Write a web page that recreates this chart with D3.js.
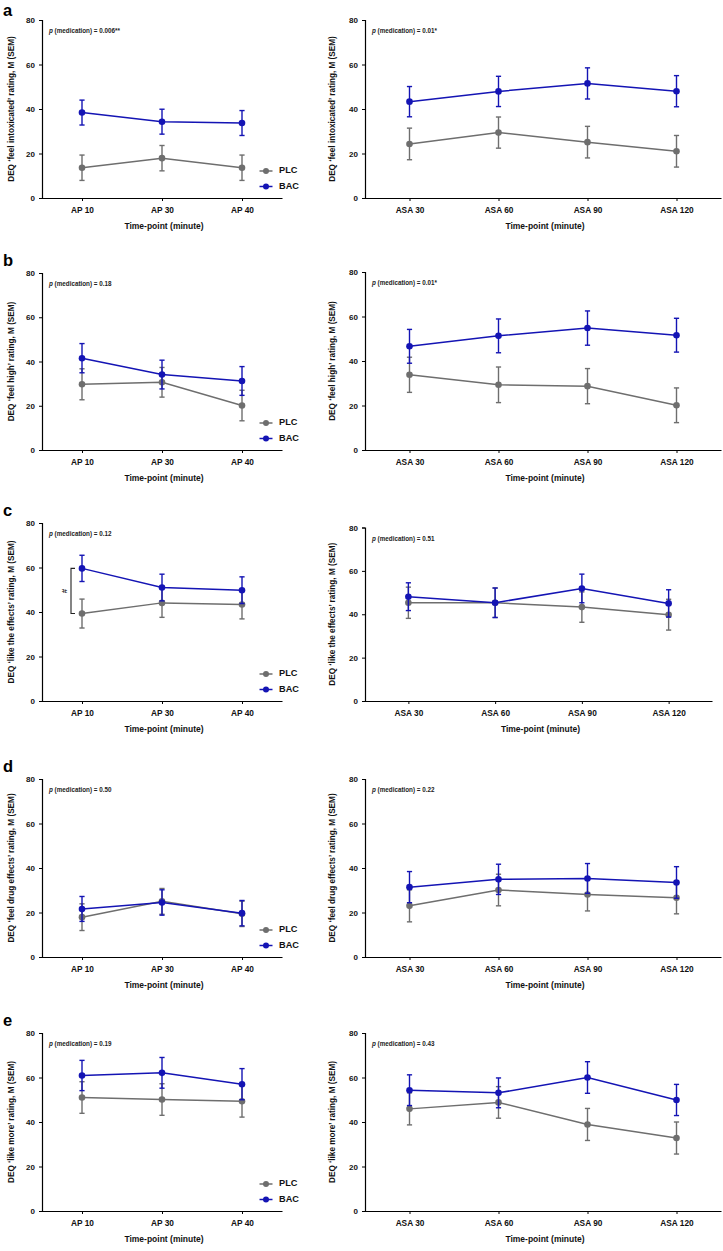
<!DOCTYPE html>
<html>
<head>
<meta charset="utf-8">
<script src="https://cdn.jsdelivr.net/npm/d3@7/dist/d3.min.js"></script>
<style>
  html, body { margin: 0; padding: 0; background: #fff; }
  svg { display: block; }
  text { font-family: "Liberation Sans", Arial, sans-serif; font-weight: bold; }
</style>
</head>
<body>
<svg id="chart" width="723" height="1251"></svg>
<script>
// ---------------- DATA ----------------
const panelLetters = ["a", "b", "c", "d", "e"];
const yLabels = [
  "DEQ \u2018feel intoxicated\u2019 rating, M (SEM)",
  "DEQ \u2018feel high\u2019 rating, M (SEM)",
  "DEQ \u2018like the effects\u2019 rating, M (SEM)",
  "DEQ \u2018feel drug effects\u2019 rating, M (SEM)",
  "DEQ \u2018like more\u2019 rating, M (SEM)"
];
const apTimes = ["AP 10", "AP 30", "AP 40"];
const asaTimes = ["ASA 30", "ASA 60", "ASA 90", "ASA 120"];
const yTicks = [0, 20, 40, 60, 80];
const pLeft = ["0.006**", "0.18", "0.12", "0.50", "0.19"];
const pRight = ["0.01*", "0.01*", "0.51", "0.22", "0.43"];
const seriesNames = ["PLC", "BAC"];

const plcAP = [
  [13.6, 17.9, 13.6],
  [29.7, 30.6, 20.1],
  [39.3, 44.1, 43.4],
  [17.9, 25.0, 19.4],
  [51.0, 50.1, 49.3]
];
const plcAPsem = [
  [5.7, 5.7, 5.7],
  [7.0, 6.7, 6.9],
  [6.5, 6.5, 6.5],
  [6.0, 5.8, 5.7],
  [7.1, 7.1, 7.1]
];
const bacAP = [
  [38.4, 34.3, 33.7],
  [41.5, 34.1, 31.2],
  [59.6, 51.0, 49.8],
  [21.6, 24.5, 19.7],
  [60.9, 62.1, 57.0]
];
const bacAPsem = [
  [5.6, 5.6, 5.6],
  [6.6, 6.5, 6.5],
  [5.9, 6.0, 6.0],
  [5.6, 5.7, 5.7],
  [6.8, 6.9, 7.0]
];
const plcASA = [
  [24.3, 29.4, 25.1, 21.0],
  [33.8, 29.3, 28.7, 20.1],
  [45.3, 45.3, 43.3, 39.8],
  [23.0, 30.1, 28.1, 26.6],
  [45.9, 48.8, 38.9, 32.8]
];
const plcASAsem = [
  [7.1, 7.0, 7.1, 7.1],
  [7.9, 8.0, 7.9, 7.8],
  [7.2, 6.8, 7.0, 7.1],
  [7.2, 7.1, 7.4, 7.2],
  [7.2, 7.1, 7.2, 7.2]
];
const bacASA = [
  [43.3, 47.9, 51.5, 48.0],
  [46.6, 51.3, 54.8, 51.6],
  [48.1, 45.3, 51.9, 45.0],
  [31.4, 34.9, 35.3, 33.5],
  [54.3, 53.1, 60.0, 49.9]
];
const bacASAsem = [
  [6.8, 6.8, 7.0, 7.0],
  [7.6, 7.6, 7.7, 7.6],
  [6.4, 6.8, 6.6, 6.3],
  [7.0, 6.8, 6.7, 7.1],
  [6.9, 6.7, 7.1, 7.0]
];

// ---------------- LAYOUT ----------------
const rowTop = [20, 273, 523, 779, 1033];
const rowBottom = [198, 450, 701, 957, 1211];
const rightTop = [20, 272, 527.5, 779, 1033];
const rightXEnd = [721, 721, 712, 721, 721];
const leftX = [42, 282];
const rightXStart = 365;
const colors = { PLC: "#6e6e6e", BAC: "#1414b4" };

const svg = d3.select("#chart");

function drawPanel(opt) {
  const g = svg.append("g");
  const x = d3.scalePoint().domain(opt.cats).range(opt.xr).padding(0.5);
  const y = d3.scaleLinear().domain([0, 80]).range([opt.bottom, opt.top]);

  // y axis
  const ya = g.append("g").attr("transform", `translate(${opt.xr[0]},0)`)
    .call(d3.axisLeft(y).tickValues(yTicks).tickSize(3).tickPadding(4));
  ya.select(".domain").attr("stroke", "#000").attr("stroke-width", 1.2);
  ya.selectAll(".tick line").attr("stroke", "#000");
  ya.selectAll(".tick text").attr("font-size", 8).attr("fill", "#111")
    .style("font-family", "Liberation Sans, Arial").style("font-weight", "bold");

  // x axis
  const xa = g.append("g").attr("transform", `translate(0,${opt.bottom})`)
    .call(d3.axisBottom(x).tickSize(3).tickSizeOuter(0).tickPadding(6));
  xa.select(".domain").attr("stroke", "#000").attr("stroke-width", 1.2);
  xa.selectAll(".tick line").attr("stroke", "#000");
  xa.selectAll(".tick text").attr("font-size", 8.3).attr("fill", "#111")
    .style("font-family", "Liberation Sans, Arial").style("font-weight", "bold");

  // x title
  g.append("text")
    .attr("x", (opt.xr[0] + opt.xr[1]) / 2 + 2)
    .attr("y", opt.bottom + 31)
    .attr("text-anchor", "middle")
    .attr("font-size", 8.5).attr("fill", "#111")
    .text("Time-point (minute)");

  // y title
  g.append("text")
    .attr("transform", `translate(${opt.ylx},${(opt.top + opt.bottom) / 2}) rotate(-90)`)
    .attr("text-anchor", "middle")
    .attr("dominant-baseline", "middle")
    .attr("font-size", 8.2).attr("fill", "#111")
    .text(opt.ylabel);

  // p annotation
  const pt = g.append("text")
    .attr("x", opt.xr[0] + 7)
    .attr("y", opt.top + 13)
    .attr("font-size", 6.3).attr("fill", "#222");
  pt.append("tspan").attr("font-style", "italic").text("p");
  pt.append("tspan").text(" (medication) = " + opt.p);

  // series
  const series = [
    { name: "PLC", vals: opt.plc, sem: opt.plcSem },
    { name: "BAC", vals: opt.bac, sem: opt.bacSem }
  ];
  series.forEach(s => {
    const pts = opt.cats.map((c, i) => ({ c, v: s.vals[i], e: s.sem[i] }));
    const col = colors[s.name];
    g.append("path").datum(pts)
      .attr("fill", "none").attr("stroke", col).attr("stroke-width", 1.5)
      .attr("d", d3.line().x(d => x(d.c)).y(d => y(d.v)));
    const eb = g.append("g").selectAll("g").data(pts).join("g");
    eb.append("line")
      .attr("x1", d => x(d.c)).attr("x2", d => x(d.c))
      .attr("y1", d => y(d.v - d.e)).attr("y2", d => y(d.v + d.e))
      .attr("stroke", col).attr("stroke-width", 1.4);
    [-1, 1].forEach(sg => {
      eb.append("line")
        .attr("x1", d => x(d.c) - 2.6).attr("x2", d => x(d.c) + 2.6)
        .attr("y1", d => y(d.v + sg * d.e)).attr("y2", d => y(d.v + sg * d.e))
        .attr("stroke", col).attr("stroke-width", 1.4);
    });
    g.append("g").selectAll("circle").data(pts).join("circle")
      .attr("cx", d => x(d.c)).attr("cy", d => y(d.v))
      .attr("r", 3.3).attr("fill", col);
  });

  // legend
  if (opt.legend) {
    seriesNames.forEach((n, i) => {
      const ly = opt.bottom - 27 + i * 15.5;
      const lx = 266;
      g.append("line").attr("x1", lx - 6.5).attr("x2", lx + 6.5)
        .attr("y1", ly).attr("y2", ly)
        .attr("stroke", colors[n]).attr("stroke-width", 1.5);
      g.append("circle").attr("cx", lx).attr("cy", ly).attr("r", 3)
        .attr("fill", colors[n]);
      g.append("text").attr("x", lx + 13).attr("y", ly)
        .attr("dominant-baseline", "middle")
        .attr("font-size", 9.2).attr("fill", "#111").text(n);
    });
  }

  // significance bracket
  if (opt.bracket) {
    const b = opt.bracket;
    const bx = x(opt.cats[b.idx]) - 11;
    const y1 = y(b.hi), y2 = y(b.lo);
    g.append("path")
      .attr("d", `M${bx + 4},${y1} H${bx} V${y2} H${bx + 4}`)
      .attr("fill", "none").attr("stroke", "#222").attr("stroke-width", 1.1);
    g.append("text")
      .attr("transform", `translate(${bx - 6},${(y1 + y2) / 2}) rotate(-90)`)
      .attr("text-anchor", "middle").attr("dominant-baseline", "middle")
      .attr("font-size", 8).attr("fill", "#222").text("#");
  }
  return g;
}

panelLetters.forEach((L, r) => {
  svg.append("text").attr("x", 3).attr("y", Math.max(rowTop[r] - 7, 16))
    .attr("font-size", 16.5).attr("fill", "#000").text(L);

  drawPanel({
    cats: apTimes, xr: leftX, top: rowTop[r], bottom: rowBottom[r],
    ylabel: yLabels[r], ylx: 12, p: pLeft[r],
    plc: plcAP[r], plcSem: plcAPsem[r], bac: bacAP[r], bacSem: bacAPsem[r],
    legend: true,
    bracket: r === 2 ? { idx: 0, hi: bacAP[2][0], lo: plcAP[2][0] } : null
  });
  drawPanel({
    cats: asaTimes, xr: [rightXStart, rightXEnd[r]], top: rightTop[r], bottom: rowBottom[r],
    ylabel: yLabels[r], ylx: 333, p: pRight[r],
    plc: plcASA[r], plcSem: plcASAsem[r], bac: bacASA[r], bacSem: bacASAsem[r],
    legend: false, bracket: null
  });
});
</script>
</body>
</html>
